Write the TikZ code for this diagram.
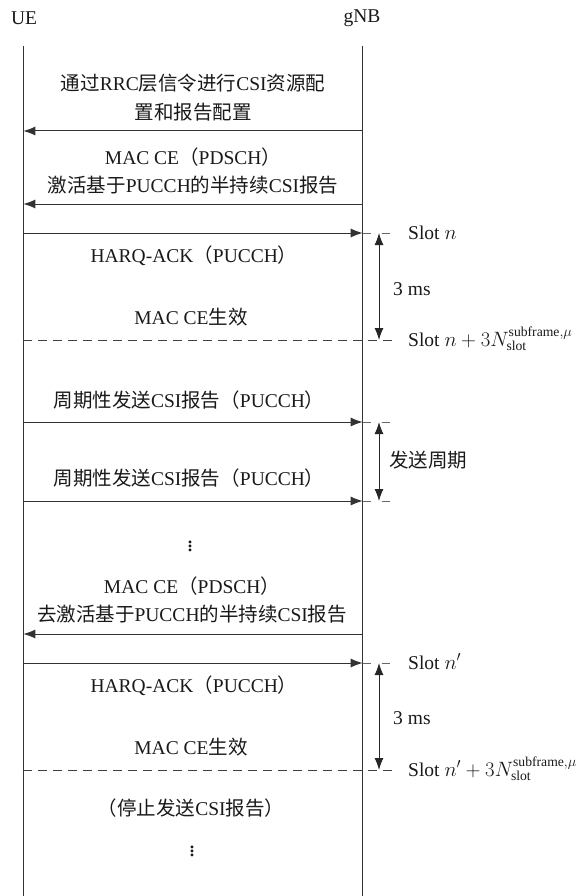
\documentclass[tikz,border=0pt]{standalone}
\usepackage{fontspec}
\setmainfont{Liberation Serif}
\newfontfamily\cjk{Noto Sans CJK SC}
\newcommand{\zh}[1]{{\cjk #1}}
\usetikzlibrary{arrows.meta}
\tikzset{
	msg/.style={-{Latex[length=12pt,width=9pt]}, line width=1pt, draw=black!80},
	life/.style={line width=1pt, draw=black!80},
	dashline/.style={line width=1pt, draw=black!75, dash pattern=on 9pt off 6pt},
	tick/.style={line width=1pt, draw=black!60, dash pattern=on 8pt off 11pt},
	span/.style={{Latex[length=12pt,width=9pt]}-{Latex[length=12pt,width=9pt]}, line width=1pt, draw=black!85},
	lbl/.style={font=\fontsize{19.5}{28.4}\selectfont, align=center, inner sep=0pt, text=black!90},
	side/.style={lbl, anchor=base west},
}
\begin{document}
\begin{tikzpicture}[x=1pt, y=-1pt]
	\useasboundingbox (0,0) rectangle (582,896);
	% the two sides and their life lines
	\node[lbl] (ue) at (24,18) {UE};
	\node[lbl] (gnb) at (362,18) {gNB};
	\coordinate (ueTop) at (23.3,46);
	\coordinate (ueEnd) at (23.3,896);
	\coordinate (gnbTop) at (362.7,46);
	\coordinate (gnbEnd) at (362.7,896);
	\draw[life] (ueTop) -- (ueEnd);
	\draw[life] (gnbTop) -- (gnbEnd);
	% points on the life lines, at the ticks and on the spans
	\foreach \n/\y in {rrc/131, act/204, ack/233, on/340, rep/422, rep2/501, deact/634, ack2/663, off/770} {
		\coordinate (u-\n) at (23.3,\y);
		\coordinate (g-\n) at (362.7,\y);
		\coordinate (t-\n) at (395,\y);
		\coordinate (s-\n) at (379,\y);
	}
	% the messages
	\draw[msg] (g-rrc) -- (u-rrc);
	\draw[msg] (g-act) -- (u-act);
	\draw[msg] (u-ack) -- (g-ack);
	\draw[msg] (u-rep) -- (g-rep);
	\draw[msg] (u-rep2) -- (g-rep2);
	\draw[msg] (g-deact) -- (u-deact);
	\draw[msg] (u-ack2) -- (g-ack2);
	% the dashed lines and the ticks
	\draw[dashline] (u-on) -- (t-on);
	\draw[dashline] (u-off) -- (t-off);
	\draw[tick] (g-ack) -- (t-ack);
	\draw[tick] (g-rep) -- (t-rep);
	\draw[tick] (g-rep2) -- (t-rep2);
	\draw[tick] (g-ack2) -- (t-ack2);
	% the spans
	\draw[span] (s-ack) -- (s-on);
	\draw[span] (s-rep) -- (s-rep2);
	\draw[span] (s-ack2) -- (s-off);
	% the message texts
	\node[lbl] (rrcTxt) at (193,97.5) {\zh{通过}RRC\zh{层信令进行}CSI\zh{资源配}\\\zh{置和报告配置}};
	\node[lbl] (actTxt) at (193,171) {MAC CE\zh{（}PDSCH\zh{）}\\\zh{激活基于}PUCCH\zh{的半持续}CSI\zh{报告}};
	\node[lbl] (ackTxt) at (194,256) {HARQ-ACK\zh{（}PUCCH\zh{）}};
	\node[lbl] (onTxt) at (191,317) {MAC CE\zh{生效}};
	\node[lbl] (repTxt) at (189,400) {\zh{周期性发送}CSI\zh{报告（}PUCCH\zh{）}};
	\node[lbl] (rep2Txt) at (189,478) {\zh{周期性发送}CSI\zh{报告（}PUCCH\zh{）}};
	\node[lbl] (dots) at (190,543) {\fontsize{24}{24}\selectfont$\vdots$};
	\node[lbl] (deactTxt) at (192,600) {MAC CE\zh{（}PDSCH\zh{）}\\\zh{去激活基于}PUCCH\zh{的半持续}CSI\zh{报告}};
	\node[lbl] (ack2Txt) at (194,686) {HARQ-ACK\zh{（}PUCCH\zh{）}};
	\node[lbl] (on2Txt) at (191,747) {MAC CE\zh{生效}};
	\node[lbl] (stopTxt) at (191,808) {\zh{（停止发送}CSI\zh{报告）}};
	\node[lbl] (dots2) at (192,848) {\fontsize{24}{24}\selectfont$\vdots$};
	% the labels on the right
	\node[side] (slotN) at (408,239.5) {Slot $n$};
	\node[side] (slotEnd) at (408,346.5) {Slot $n+3N^{\mathrm{subframe},\mu}_{\mathrm{slot}}$};
	\node[lbl, anchor=west] (gap) at (393,289) {3 ms};
	\node[lbl, anchor=west] (period) at (389,460) {\zh{发送周期}};
	\node[side] (slotN2) at (408,669.5) {Slot $n'$};
	\node[side] (slotEnd2) at (408,776.5) {Slot $n'+3N^{\mathrm{subframe},\mu}_{\mathrm{slot}}$};
	\node[lbl, anchor=west] (gap2) at (393,718) {3 ms};
\end{tikzpicture}
\end{document}
